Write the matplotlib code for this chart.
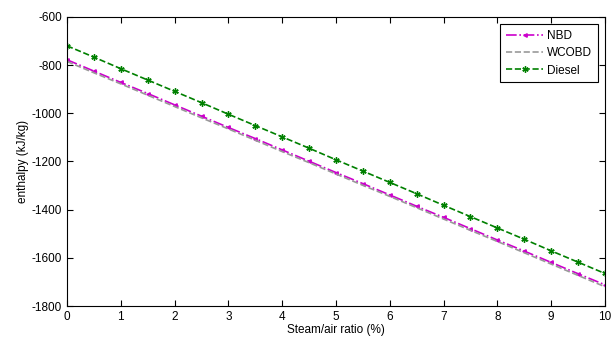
import numpy as np
import matplotlib
matplotlib.use("Agg")
import matplotlib.pyplot as plt

plt.rcParams["font.family"] = ["Liberation Sans", "DejaVu Sans"]
plt.rcParams["font.size"] = 8.5
plt.rcParams["axes.unicode_minus"] = False

# ============================================================
# Data
# ============================================================

ratio = [0, 0.5, 1, 1.5, 2, 2.5, 3, 3.5, 4, 4.5, 5,
         5.5, 6, 6.5, 7, 7.5, 8, 8.5, 9, 9.5, 10]

nbd = [-778, -825, -872, -918, -965, -1012, -1059, -1105, -1152, -1199, -1246,
       -1292, -1339, -1386, -1432, -1479, -1526, -1572, -1619, -1666, -1712]

wcobd = [-785, -832, -878, -925, -972, -1019, -1065, -1112, -1159, -1205, -1252,
         -1299, -1345, -1392, -1439, -1486, -1532, -1579, -1626, -1673, -1720]

diesel = [-720, -767, -815, -862, -909, -956, -1004, -1051, -1098, -1145, -1193,
          -1240, -1287, -1334, -1382, -1429, -1476, -1523, -1571, -1618, -1665]

# ============================================================
# Plot
# ============================================================

fig = plt.figure(figsize=(6.12, 3.45), dpi=100)
ax = fig.add_axes([0.1095, 0.113, 0.879, 0.838])

ax.plot(ratio, nbd, color="#cc00cc", linestyle="-.", linewidth=1.2,
        marker="<", markersize=2.5, label="NBD")
ax.plot(ratio, wcobd, color="#999999", linestyle="--", linewidth=1.2,
        label="WCOBD")
ax.plot(ratio, diesel, color="#008000", linestyle="--", linewidth=1.2,
        marker=(6, 2, 0), markersize=4.5, markeredgewidth=1, label="Diesel")

ax.set_xlim(0, 10)
ax.set_ylim(-1800, -600)
ax.set_xticks(range(0, 11))
ax.set_yticks(range(-1800, -599, 200))
ax.tick_params(direction="in", top=True, right=True, length=4, width=0.8)
for s in ax.spines.values():
    s.set_linewidth(0.8)

ax.set_xlabel("Steam/air ratio (%)", labelpad=1)
ax.set_ylabel("enthalpy (kJ/kg)", labelpad=2)

leg = ax.legend(loc="upper right", fancybox=False, edgecolor="black",
                framealpha=1, handlelength=3.2, borderaxespad=0.6,
                labelspacing=0.45, handletextpad=0.3, borderpad=0.5)
leg.get_frame().set_linewidth(0.8)

fig.savefig("out.png", dpi=100)
